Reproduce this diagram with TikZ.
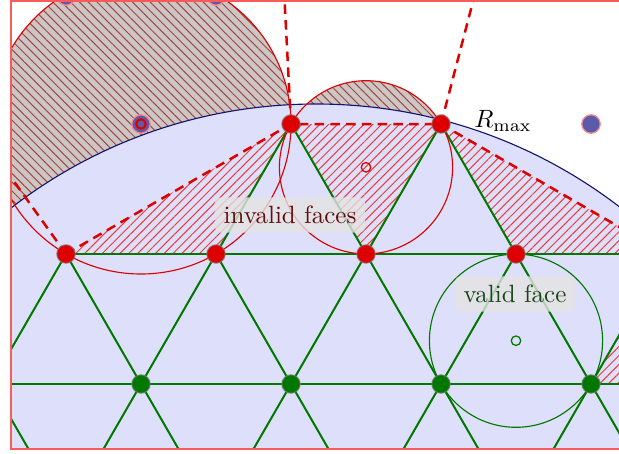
\documentclass[tikz,border=0pt]{standalone}
\usetikzlibrary{patterns.meta,calc}
\definecolor{diskfill}{RGB}{222,223,250}
\definecolor{navyb}{RGB}{20,20,110}
\definecolor{grayreg}{RGB}{204,199,197}
\definecolor{hatchbrown}{RGB}{160,70,70}
\definecolor{hatchred}{RGB}{235,60,60}
\definecolor{mygreen}{RGB}{0,120,0}
\definecolor{myred}{RGB}{220,0,0}
\definecolor{dotblue}{RGB}{90,92,170}
\definecolor{invtext}{RGB}{95,15,15}
\definecolor{valtext}{RGB}{25,70,25}
\definecolor{framered}{RGB}{250,90,90}
\begin{document}
\begin{tikzpicture}[x=0.4pt,y=-0.4pt,
  edge/.style={draw=mygreen,line width=0.8pt},
  dashedge/.style={draw=myred,line width=1pt,dash pattern=on 3.8pt off 2.5pt},
  badface/.style={pattern={Lines[angle=45,distance=2.5pt,line width=0.4pt]},pattern color=hatchred},
  outreg/.style={pattern={Lines[angle=-45,distance=2.5pt,line width=0.4pt]},pattern color=hatchbrown},
  reddot/.style={circle,inner sep=0pt,minimum size=7.4pt,fill=myred,draw=gray,draw opacity=0.6,line width=0.5pt},
  greendot/.style={circle,inner sep=0pt,minimum size=7.4pt,fill=mygreen,draw=gray,draw opacity=0.6,line width=0.5pt},
  bluedot/.style={circle,inner sep=0pt,minimum size=7.4pt,fill=dotblue,draw=red!45,line width=0.5pt},
  ccmark/.style={circle,inner sep=0pt,minimum size=3.8pt,line width=0.5pt},
  lbl/.style={fill=gray!22,fill opacity=0.8,text opacity=1,rounded corners=2.5pt,inner sep=3.5pt}]
\useasboundingbox (0,0) rectangle (619,453);
% lattice coordinates
\coordinate (O) at (316,603);
\coordinate (a0) at (66,-4);   \coordinate (b0) at (216,-4);
\coordinate (a1) at (141,124); \coordinate (b1) at (291,124);
\coordinate (c1) at (441,124); \coordinate (d1) at (591,124);
\coordinate (a2) at (66,254);  \coordinate (b2) at (216,254);
\coordinate (c2) at (366,254); \coordinate (d2) at (516,254);
\coordinate (e2) at (666,254);
\coordinate (z3) at (-9,384);  \coordinate (a3) at (141,384);
\coordinate (b3) at (291,384); \coordinate (c3) at (441,384);
\coordinate (d3) at (591,384); \coordinate (e3) at (741,384);
\coordinate (a4) at (66,514);  \coordinate (b4) at (216,514);
\coordinate (c4) at (366,514); \coordinate (d4) at (516,514);
\coordinate (e4) at (666,514);
\coordinate (ccA) at (141,124);
\coordinate (ccB) at (366,167.3);
\coordinate (ccC) at (516,340.7);
\begin{scope}
\clip (11,1) rectangle (640,449);
% parts of circumcircles outside the disk
\fill[grayreg] (ccA) circle (150);
\fill[outreg] (ccA) circle (150);
\fill[grayreg] (ccB) circle (86.6);
\fill[outreg] (ccB) circle (86.6);
% disk
\fill[diskfill] (O) circle (499);
\draw[navyb,line width=0.45pt] (O) circle (499);
% invalid faces
\fill[badface] (a2) -- (b1) -- (b2) -- cycle;
\fill[badface] (b1) -- (c1) -- (c2) -- cycle;
\fill[badface] (c1) -- (d2) -- (e2) -- cycle;
\fill[badface] (d3) -- (e2) -- (e3) -- cycle;
% green edges
\draw[edge] (a2) -- (b2) -- (c2) -- (d2) -- (e2);
\draw[edge] (z3) -- (a3) -- (b3) -- (c3) -- (d3) -- (e3);
\draw[edge] (b1) -- (b2) (b1) -- (c2) (c1) -- (c2) (c1) -- (d2);
\draw[edge] (a2) -- (z3) (a2) -- (a3) (b2) -- (a3) (b2) -- (b3)
  (c2) -- (b3) (c2) -- (c3) (d2) -- (c3) (d2) -- (d3) (e2) -- (d3) (e2) -- (e3);
\draw[edge] (z3) -- (a4) (a3) -- (a4) (a3) -- (b4) (b3) -- (b4) (b3) -- (c4)
  (c3) -- (c4) (c3) -- (d4) (d3) -- (d4) (d3) -- (e4);
% dashed edges
\draw[dashedge] (a2) -- (b1) -- (c1) -- (e2);
\draw[dashedge] (b1) -- ($(O)!1.35!(b1)$);
\draw[dashedge] (c1) -- ($(O)!1.35!(c1)$);
\draw[dashedge] (a2) -- ($(O)!1.5!(a2)$);
% circumcircles
\draw[myred,line width=0.45pt] (ccA) circle (150);
\draw[myred,line width=0.45pt] (ccB) circle (86.6);
\draw[mygreen,line width=0.45pt] (ccC) circle (86.6);
% points
\node[bluedot] (n-a0) at (a0) {};
\node[bluedot] (n-b0) at (b0) {};
\node[bluedot] (n-a1) at (a1) {};
\node[bluedot] (n-d1) at (d1) {};
\node[reddot] (n-b1) at (b1) {};
\node[reddot] (n-c1) at (c1) {};
\node[reddot] (n-a2) at (a2) {};
\node[reddot] (n-b2) at (b2) {};
\node[reddot] (n-c2) at (c2) {};
\node[reddot] (n-d2) at (d2) {};
\node[greendot] (n-a3) at (a3) {};
\node[greendot] (n-b3) at (b3) {};
\node[greendot] (n-c3) at (c3) {};
\node[greendot] (n-d3) at (d3) {};
% circumcentres
\node[ccmark,draw=myred,line width=0.85pt] (m-A) at (ccA) {};
\node[ccmark,draw=myred] (m-B) at (ccB) {};
\node[ccmark,draw=mygreen] (m-C) at (ccC) {};
% labels
\node[lbl,text=invtext] (l-inv) at (290,215) {invalid faces};
\node[lbl,text=valtext] (l-val) at (515,294) {valid face};
\node (l-r) at (503,121) {$R_{\max}$};
\end{scope}
\draw[framered,line width=0.6pt] (11,1) rectangle (640,449);
\end{tikzpicture}
\end{document}
